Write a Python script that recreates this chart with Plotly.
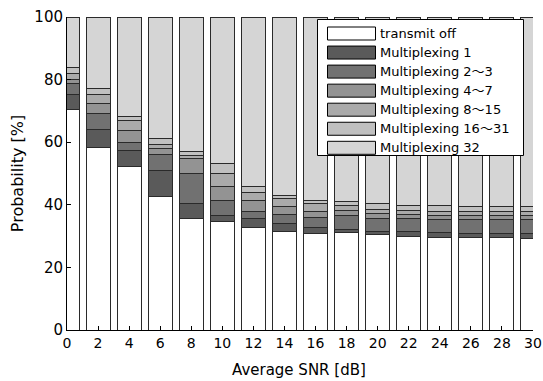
import plotly.graph_objects as go

snr = [0, 2, 4, 6, 8, 10, 12, 14, 16, 18, 20, 22, 24, 26, 28, 30]

transmit_off = [70.3, 58.3, 52.2, 42.8, 35.7, 34.6, 32.8, 31.4, 30.9, 31.1, 30.4, 30.0, 29.6, 29.6, 29.6, 29.2]
mux_1 = [5.1, 5.7, 5.2, 8.2, 4.8, 2.1, 2.9, 2.7, 1.8, 1.1, 1.2, 1.4, 1.6, 1.3, 1.3, 1.7]
mux_2_3 = [3.4, 5.1, 2.5, 5.1, 9.5, 4.7, 2.1, 2.9, 3.2, 4.4, 4.1, 4.3, 4.2, 4.5, 4.5, 4.5]
mux_4_7 = [1.3, 3.2, 3.9, 1.9, 4.8, 4.5, 3.6, 2.4, 1.9, 1.5, 1.4, 1.3, 1.2, 1.2, 1.2, 1.2]
mux_8_15 = [1.9, 3.0, 3.1, 1.4, 1.1, 4.1, 2.6, 2.5, 2.7, 1.6, 1.4, 1.2, 1.3, 1.3, 1.3, 1.3]
mux_16_31 = [1.9, 1.8, 1.4, 1.7, 1.1, 3.2, 1.8, 1.1, 1.0, 1.5, 2.0, 1.6, 1.8, 1.6, 1.6, 1.6]
mux_32 = [round(100 - sum(v), 1) for v in zip(transmit_off, mux_1, mux_2_3, mux_4_7, mux_8_15, mux_16_31)]

series_names = ["transmit off", "Multiplexing 1", "Multiplexing 2～3", "Multiplexing 4～7",
                "Multiplexing 8～15", "Multiplexing 16～31", "Multiplexing 32"]
series_values = [transmit_off, mux_1, mux_2_3, mux_4_7, mux_8_15, mux_16_31, mux_32]
series_colors = ["#ffffff", "#5a5a5a", "#717171", "#939393", "#aaaaaa", "#c0c0c0", "#d5d5d5"]

x_title = "Average SNR [dB]"
y_title = "Probability [%]"

FONT = "DejaVu Sans, Noto Sans CJK JP, sans-serif"

W, H = 543, 381
ML, MR, MT, MB = 67, 10, 17, 51
PW, PH = W - ML - MR, H - MT - MB


def px_x(px):
    return (px - ML) / PW


def px_y(py):
    return (H - MB - py) / PH


fig = go.Figure()
for name, vals, col in zip(series_names, series_values, series_colors):
    fig.add_trace(go.Bar(
        x=snr, y=vals, name=name, width=1.55, showlegend=False,
        marker=dict(color=col, line=dict(color="#2a2a2a", width=1)),
    ))

# Custom legend (box, wide swatches, labels) in paper coordinates
shapes = [dict(type="rect", xref="paper", yref="paper",
               x0=px_x(317.5), x1=px_x(523.5), y0=px_y(155.5), y1=px_y(19.5),
               fillcolor="white", line=dict(color="black", width=1), layer="above")]
annotations = []
for i, (name, col) in enumerate(zip(series_names, series_colors)):
    cy = 33.5 + 19.05 * i
    shapes.append(dict(type="rect", xref="paper", yref="paper",
                       x0=px_x(327.5), x1=px_x(375.5), y0=px_y(cy + 6.5), y1=px_y(cy - 6.5),
                       fillcolor=col, line=dict(color="black", width=1), layer="above"))
    annotations.append(dict(xref="paper", yref="paper", x=px_x(378), y=px_y(cy),
                            text=name, showarrow=False, xanchor="left", yanchor="middle",
                            font=dict(family=FONT, size=13, color="black")))

annotations.append(dict(xref="paper", yref="paper", x=px_x(299), y=px_y(370),
                        text=x_title, showarrow=False, xanchor="center", yanchor="middle",
                        font=dict(family=FONT, size=15, color="black")))

fig.update_layout(
    barmode="stack",
    width=W, height=H,
    margin=dict(l=ML, r=MR, t=MT, b=MB, autoexpand=False),
    paper_bgcolor="white", plot_bgcolor="white",
    font=dict(family=FONT, size=15, color="black"),
    showlegend=False,
    shapes=shapes,
    annotations=annotations,
    xaxis=dict(
        range=[0, 30], tickmode="linear", tick0=0, dtick=2,
        showline=True, linecolor="black", linewidth=1,
        ticks="inside", ticklen=4, tickcolor="black",
        showgrid=False, zeroline=False, automargin=False,
        tickfont=dict(size=14), ticklabeloverflow="allow",
    ),
    yaxis=dict(
        range=[0, 100], tickmode="linear", tick0=0, dtick=20,
        showline=True, linecolor="black", linewidth=1,
        ticks="inside", ticklen=4, tickcolor="black",
        showgrid=False, zeroline=False,
        tickfont=dict(size=15),
        title=dict(text=y_title, standoff=6, font=dict(size=16)),
    ),
)

fig.write_html("out.html")
